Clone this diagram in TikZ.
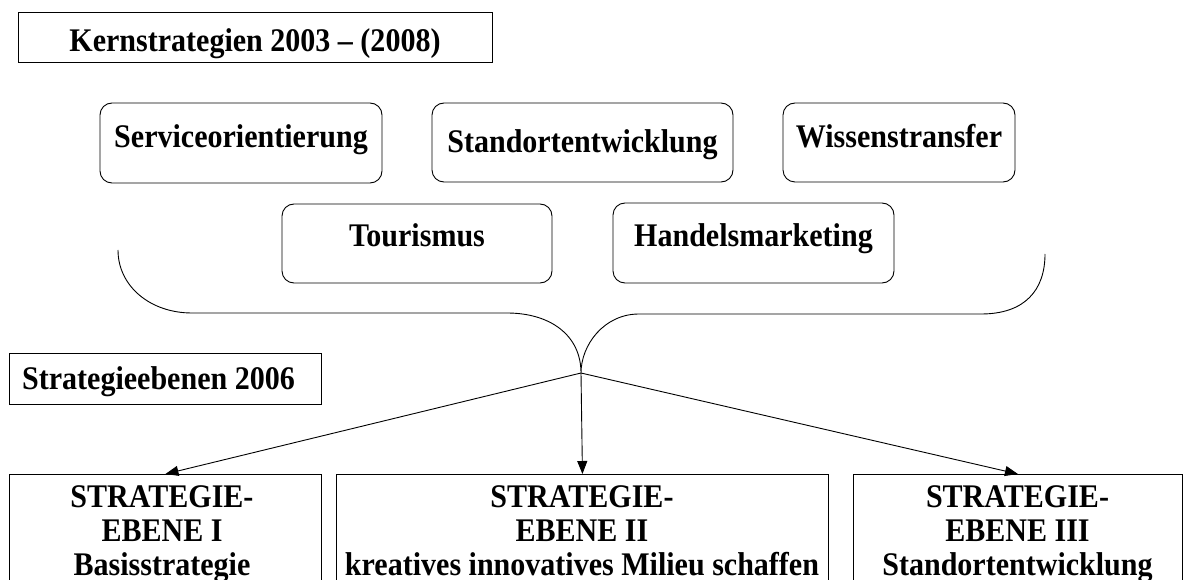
\documentclass[tikz,border=0pt]{standalone}
\usepackage{fontspec}
\setmainfont{Liberation Serif}[FakeStretch=0.91]
\usetikzlibrary{arrows.meta}
\begin{document}
\begin{tikzpicture}[x=1pt,y=-1pt,
  lbl/.style={font=\bfseries\fontsize{33}{34}\selectfont, inner sep=0pt, align=center},
  sqbox/.style={lbl, draw, line width=0.9pt},
  rbox/.style={sqbox, rounded corners=12pt},
  lvlbox/.style={draw, line width=0.9pt, anchor=north west, inner sep=0pt},
  arr/.style={line width=0.9pt, -{Triangle[length=13pt,width=10pt]}},
  bracestyle/.style={line width=0.9pt}]
\clip (0,0) rectangle (1184,580);
\fill[white] (0,0) rectangle (1184,580);
% headers
\node[sqbox, minimum width=474pt, minimum height=50pt, text height=30pt, text depth=0pt] (kern) at (255,37) {Kernstrategien 2003 – (2008)};
\node[sqbox, minimum width=312pt, minimum height=51pt, text height=24pt, text depth=2pt] (strat) at (165,378.5) {Strategieebenen 2006\hspace*{13pt}};
% core strategies
\node[rbox, minimum width=282pt, minimum height=80pt, text height=22pt, text depth=12pt] (serv) at (241,143) {Serviceorientierung};
\node[rbox, minimum width=301pt, minimum height=79pt, text height=22pt, text depth=1pt] (stand) at (582.5,142.5) {Standortentwicklung};
\node[rbox, minimum width=232pt, minimum height=79pt, text height=22pt, text depth=11pt] (wiss) at (899,142.5) {Wissenstransfer};
\node[rbox, minimum width=270pt, minimum height=79pt, text height=22pt, text depth=15pt] (tour) at (417,243.5) {Tourismus};
\node[rbox, minimum width=281pt, minimum height=80pt, text height=22pt, text depth=14pt] (hand) at (753.5,243) {Handelsmarketing};
% brace
\coordinate (tip) at (581,373);
\draw[bracestyle] (118,250) .. controls (118,286) and (150,313) .. (192,313)
  -- (507,313) .. controls (550,313) and (581,335) .. (tip)
  .. controls (581,345) and (604,314) .. (639,314)
  -- (981,314) .. controls (1025,314) and (1045,290) .. (1045,254);
% strategy levels
\node[lvlbox, minimum width=312pt, minimum height=150pt] (l1) at (9,474) {};
\node[lvlbox, minimum width=492pt, minimum height=150pt] (l2) at (336,474) {};
\node[lvlbox, minimum width=329pt, minimum height=150pt] (l3) at (853,474) {};
\node[lbl, anchor=north] (t1) at (162,485) {STRATEGIE-\\EBENE I\\Basisstrategie};
\node[lbl, anchor=north] (t2) at (582,485) {STRATEGIE-\\EBENE II\\kreatives innovatives Milieu schaffen};
\node[lbl, anchor=north] (t3) at (1017.5,485) {STRATEGIE-\\EBENE III\\Standortentwicklung};
% arrows
\draw[arr] (tip) -- (l1.north);
\draw[arr] (tip) -- (l2.north);
\draw[arr] (tip) -- (l3.north);
\end{tikzpicture}
\end{document}
